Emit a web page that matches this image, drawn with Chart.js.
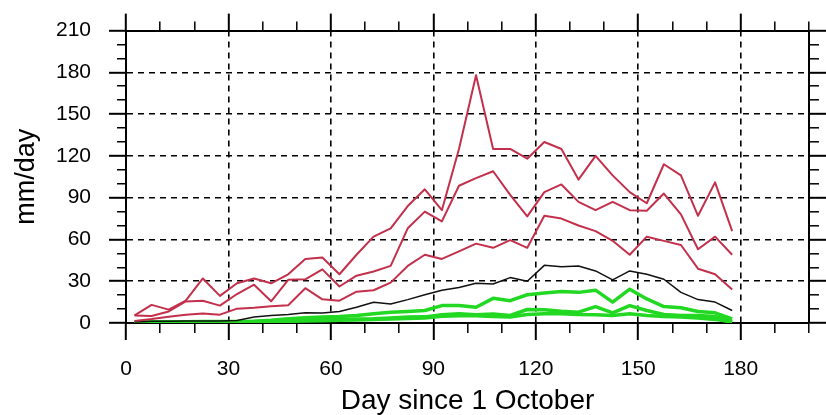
<!DOCTYPE html>
<html>
<head>
<meta charset="utf-8">
<title>Daily rainfall since 1 October</title>
<script src="https://cdn.jsdelivr.net/npm/chart.js@4"></script>
<style>
    html, body { margin: 0; padding: 0; background: #fff; }
    #wrap { width: 826px; height: 415px; }
</style>
</head>
<body>
<div id="wrap"><canvas id="chart-rain" width="826" height="415"></canvas></div>
<script>
// ── Data (pentad centres, mm/day) ────────────────────────────────────────
var days = [2.5, 7.5, 12.5, 17.5, 22.5, 27.5, 32.5, 37.5, 42.5, 47.5, 52.5, 57.5,
            62.5, 67.5, 72.5, 77.5, 82.5, 87.5, 92.5, 97.5, 102.5, 107.5, 112.5, 117.5,
            122.5, 127.5, 132.5, 137.5, 142.5, 147.5, 152.5, 157.5, 162.5, 167.5, 172.5, 177.5];

var redTop = [5.5, 13, 9.6, 16, 32, 19.5, 28.5, 32, 28.5, 35, 46, 47,
              35, 49, 62, 68, 84, 96, 81, 125, 178, 125, 125, 118,
              130, 125, 103, 120, 106, 94, 86, 114, 106, 77, 101, 66];

var redMid = [5.4, 5, 8.3, 15.5, 16, 12.5, 20.8, 27.5, 15.6, 31, 31.4, 38.5,
              26.2, 34, 37, 41, 68, 80, 73, 98.6, 104, 109, 92, 76.6,
              94, 99.5, 87, 81, 87, 81, 80.6, 93, 78, 53, 62, 49];

var redLow = [1.5, 2.8, 4.5, 6, 6.8, 6, 10.3, 11, 12, 12.8, 25, 17,
              16, 22.5, 23.5, 29, 41, 49, 46, 51.5, 57, 54, 59.5, 54,
              77, 75, 70, 66, 59, 49, 62, 59, 56, 39, 35, 24];

var black = [0.7, 1.2, 1.3, 1.4, 1.5, 1.5, 1.8, 4.3, 5.4, 6.1, 7.3, 7.1,
             8.3, 11.3, 14.9, 13.7, 16.8, 20.3, 23.5, 25.5, 28.6, 28, 32.6, 30,
             41.4, 40.4, 41, 37.4, 31, 37.4, 35, 31.4, 22, 16.8, 15, 9];

var greenTop = [0.8, 0.8, 0.9, 0.9, 1, 1, 1.1, 1.3, 1.9, 3, 3.8, 4.3,
                4.7, 5.4, 6.6, 7.8, 8.3, 9, 12.5, 12.5, 11.3, 17.7, 16, 20.3,
                21.5, 22.7, 22, 23.6, 15, 24.3, 17.3, 11.8, 10.9, 8.3, 7.3, 3];

var greenMid = [0.4, 0.5, 0.5, 0.6, 0.6, 0.7, 0.8, 1, 1.3, 1.7, 2, 2.3,
                2.6, 2.8, 3, 3.6, 4.3, 4.4, 5.9, 6.6, 5.9, 6.5, 5.4, 9.7,
                9.5, 8.5, 7.8, 11.8, 7.3, 12.5, 9, 6.1, 5.4, 5.4, 4.7, 1.2];

var greenLow = [0.2, 0.3, 0.3, 0.4, 0.4, 0.5, 0.6, 0.8, 1, 1.2, 1.5, 1.7,
                2, 2.2, 2.5, 2.8, 3.3, 3.6, 4.8, 5.2, 5.2, 4.7, 4.3, 6.1,
                6.6, 6.6, 6.1, 5.9, 5.4, 6.6, 5.4, 4.7, 4.3, 3.5, 2.6, 0.7];

var xMax = 200, xLabelMax = 180, yMax = 210;
var majorStep = 30, minorStep = 10;
var xTitle = 'Day since 1 October';
var yTitle = 'mm/day';

(function () {
    'use strict';

    var FONT = 'Liberation Sans, Arial, Helvetica, sans-serif';
    var RED = '#c2304b', GREEN = '#22d822';

    function series(values) {
        return values.map(function (v, i) { return { x: days[i], y: v }; });
    }

    function isMajor(v) { return v % majorStep === 0; }

    // ── Tick helpers ─────────────────────────────────────────────────────────
    // major ticks 17px, minor ticks drawn as the outer 9px of the same line
    function tickDash(fromOutside) {
        return function (c) {
            if (isMajor(c.tick.value)) return [];
            return fromOutside ? [0, 8, 9, 40] : [9, 40];
        };
    }
    function tickWidth(c) { return isMajor(c.tick.value) ? 2 : 1.5; }

    function gridColor(max) {
        return function (c) {
            var v = c.tick.value;
            return (isMajor(v) && v > 0 && v < max) ? '#000' : 'rgba(0,0,0,0)';
        };
    }

    function axisBase(max, position, fromOutside) {
        return {
            type: 'linear', position: position, min: 0, max: max,
            border: { display: true, color: '#000', width: 2, dash: [6, 5] },
            grid: {
                drawOnChartArea: false, drawTicks: true, tickLength: 17,
                tickColor: '#000', tickWidth: tickWidth, tickBorderDash: tickDash(fromOutside),
                color: 'rgba(0,0,0,0)', lineWidth: 1.6
            },
            ticks: { stepSize: minorStep, autoSkip: false, maxRotation: 0, display: false }
        };
    }

    // ── Scales ───────────────────────────────────────────────────────────────
    var xBottom = axisBase(xMax, 'bottom', false);
    xBottom.grid.drawOnChartArea = true;
    xBottom.grid.color = gridColor(xMax);
    xBottom.ticks.display = true;
    xBottom.ticks.padding = 17;
    xBottom.ticks.color = '#000';
    xBottom.ticks.font = { family: FONT, size: 21 };
    xBottom.ticks.callback = function (v) { return (isMajor(v) && v <= xLabelMax) ? v : ''; };
    xBottom.title = { display: true, text: xTitle, color: '#000',
                      font: { family: FONT, size: 28, lineHeight: 0.95 }, padding: { top: 0, bottom: 0 } };
    xBottom.afterFit = function (s) { s.height = 92; };

    var xTop = axisBase(xMax, 'top', true);
    xTop.afterFit = function (s) { s.height = 27; };

    var yLeft = axisBase(yMax, 'left', true);
    yLeft.grid.drawOnChartArea = true;
    yLeft.grid.color = gridColor(yMax);
    yLeft.ticks.display = true;
    yLeft.ticks.padding = 18;
    yLeft.ticks.color = '#000';
    yLeft.ticks.font = { family: FONT, size: 21 };
    yLeft.ticks.callback = function (v) { return isMajor(v) ? v : ''; };
    yLeft.title = { display: true, text: yTitle, color: '#000',
                    font: { family: FONT, size: 27 }, padding: { top: 10, bottom: 0 } };
    yLeft.afterFit = function (s) { s.width = 126; };

    var yRight = axisBase(yMax, 'right', false);
    yRight.afterFit = function (s) { s.width = 10; };

    // ── Chart ────────────────────────────────────────────────────────────────
    function line(values, color, width) {
        return {
            data: series(values), borderColor: color, backgroundColor: color,
            borderWidth: width, pointRadius: 0, tension: 0, fill: false,
            borderJoinStyle: 'round', xAxisID: 'x', yAxisID: 'y'
        };
    }

    new Chart(document.getElementById('chart-rain'), {
        type: 'line',
        data: {
            datasets: [
                line(redTop, RED, 2),
                line(redMid, RED, 2),
                line(redLow, RED, 2),
                line(black, '#111', 1.5),
                line(greenLow, GREEN, 3.5),
                line(greenMid, GREEN, 3.5),
                line(greenTop, GREEN, 3.5)
            ]
        },
        options: {
            responsive: false,
            animation: false,
            layout: { padding: 0 },
            plugins: { legend: { display: false }, tooltip: { enabled: false } },
            scales: { x: xBottom, x2: xTop, y: yLeft, y2: yRight }
        }
    });
})();
</script>
</body>
</html>
